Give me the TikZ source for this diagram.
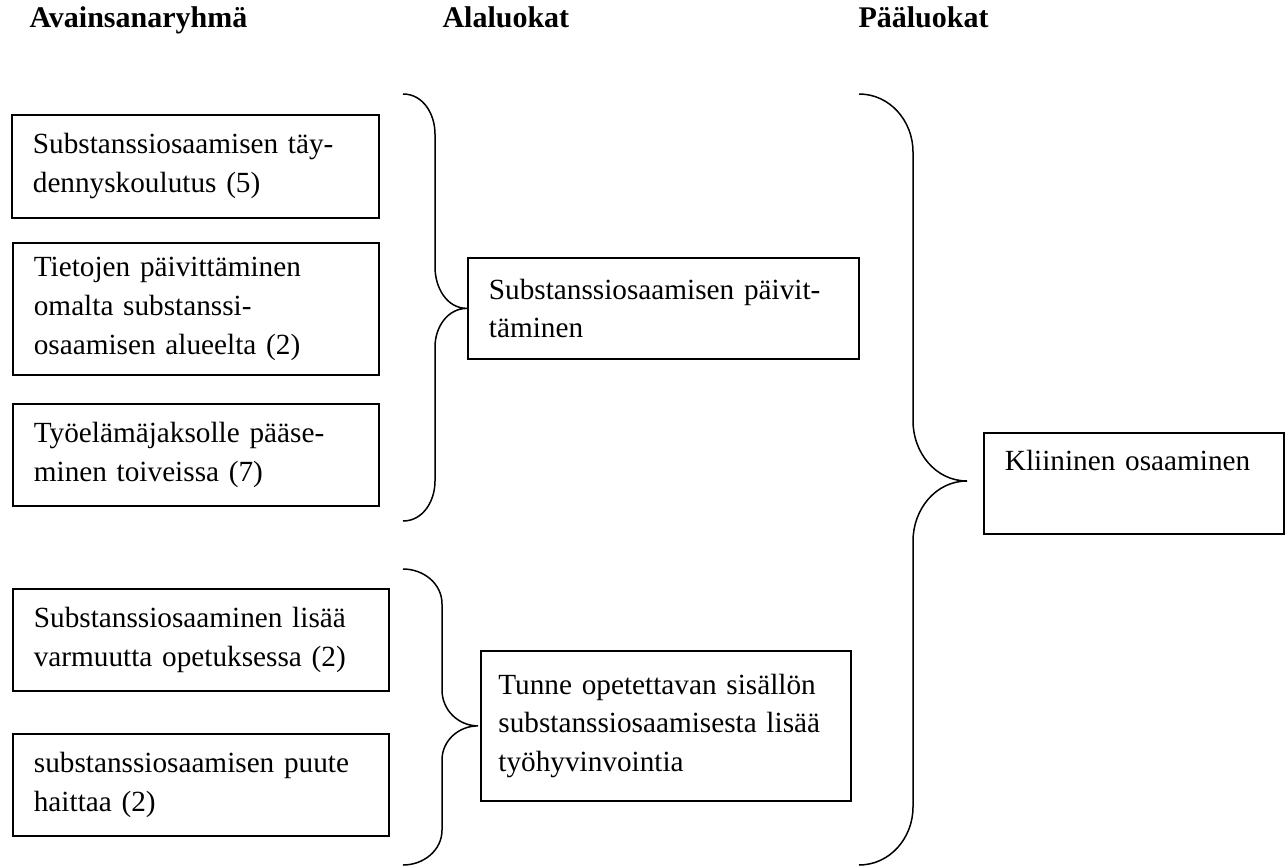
\documentclass[tikz,border=0pt]{standalone}
\usepackage{fontspec}
\setmainfont{Liberation Serif}
\usepackage{tikz}

\tikzset{
  laatikko/.style={draw, line width=0.7pt, anchor=north west, align=left,
    inner xsep=8.4pt, inner ysep=0pt, font=\fontsize{11.7}{15.5}\selectfont},
  otsikko/.style={anchor=base west, inner sep=0pt, font=\fontsize{12}{14}\selectfont\bfseries},
  kaari/.style={line width=0.6pt},
}

\begin{document}
\begin{tikzpicture}[x=0.4pt,y=-0.4pt]
    \useasboundingbox (0,0) rectangle (1285,866);

    \node[otsikko] (h1) at (29,28) {Avainsanaryhmä};
    \node[otsikko] (h2) at (442,28) {Alaluokat};
    \node[otsikko] (h3) at (858,28) {Pääluokat};

    \node[laatikko,text width=130pt,minimum height=41.2pt] (avain1) at (11,114) {Substanssiosaamisen täy-\\dennyskoulutus (5)};
    \node[laatikko,text width=129.6pt,minimum height=52.8pt] (avain2) at (12,242) {Tietojen päivittäminen\\omalta substanssi-\\osaamisen alueelta (2)};
    \node[laatikko,text width=129.6pt,minimum height=40.8pt] (avain3) at (12,403) {Työelämäjaksolle pääse-\\minen toiveissa (7)};
    \node[laatikko,text width=133.6pt,minimum height=40.8pt] (avain4) at (12,588) {Substanssiosaaminen lisää\\varmuutta opetuksessa (2)};
    \node[laatikko,text width=133.6pt,minimum height=40.8pt] (avain5) at (12,733) {substanssiosaamisen puute\\haittaa (2)};

    \node[laatikko,text width=139.6pt,minimum height=40.4pt] (ala1) at (467,257) {Substanssiosaamisen päivit-\\täminen};
    \node[laatikko,text width=134pt,inner xsep=7pt,minimum height=60pt] (ala2) at (480,650) {Tunne opetettavan sisällön\\substanssiosaamisesta lisää\\työhyvinvointia};

    \node[laatikko,text width=103.2pt,text height=15.2pt,text depth=25.2pt] (paa1) at (983,432) {Kliininen osaaminen};

    \coordinate (karki1) at (ala1.west);
    \coordinate (karki2) at ([xshift=-0.8pt]ala2.west);
    \coordinate (karki3) at (967,481);

    \draw[kaari] (403,94) to[out=0,in=90] (435,134) -- (435,267)
        to[out=-90,in=180] (karki1) to[out=180,in=90] (435,347)
        -- (435,481) to[out=-90,in=0] (403,521);
    \draw[kaari] (403,569) to[out=0,in=90] (442,604) -- (442,690)
        to[out=-90,in=180] (karki2) to[out=180,in=90] (442,760)
        -- (442,830) to[out=-90,in=0] (403,865);
    \draw[kaari] (859,94) to[out=0,in=90] (913,152) -- (913,421)
        to[out=-90,in=180] (karki3) to[out=180,in=90] (913,541)
        -- (913,807) to[out=-90,in=0] (859,865);

\end{tikzpicture}
\end{document}
